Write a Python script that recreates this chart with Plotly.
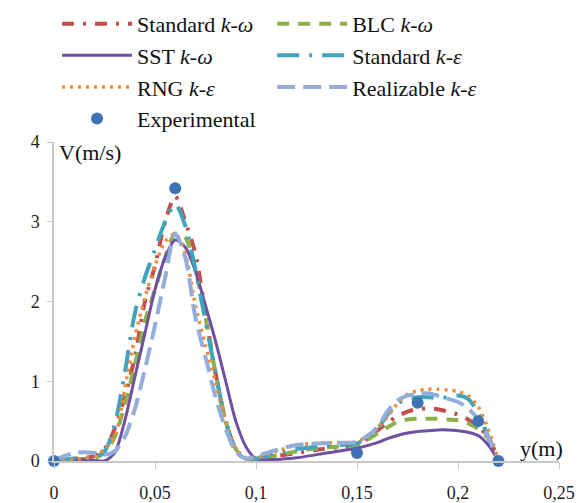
import plotly.graph_objects as go

# ---------------- data ----------------
y_pos = [0, 0.01, 0.02, 0.025, 0.03, 0.035, 0.04, 0.045, 0.05, 0.055, 0.06, 0.065,
         0.07, 0.075, 0.08, 0.085, 0.09, 0.095, 0.1, 0.11, 0.12, 0.13, 0.14, 0.15,
         0.16, 0.165, 0.17, 0.175, 0.18, 0.185, 0.19, 0.195, 0.2, 0.205, 0.21, 0.215, 0.22]

v_std_kw = [0, 0.03, 0.06, 0.15, 0.4, 0.8, 1.3, 2.0, 2.45, 3.0, 3.32, 3.0,
            2.6, 1.85, 1.1, 0.5, 0.15, 0.03, 0.02, 0.06, 0.1, 0.14, 0.17, 0.2,
            0.38, 0.48, 0.56, 0.62, 0.65, 0.66, 0.65, 0.62, 0.58, 0.52, 0.43, 0.3, 0.0]

v_blc_kw = [0, 0.02, 0.04, 0.1, 0.3, 0.7, 1.2, 1.75, 2.15, 2.55, 2.85, 2.8,
            2.4, 1.8, 1.1, 0.5, 0.15, 0.03, 0.02, 0.07, 0.12, 0.16, 0.18, 0.2,
            0.34, 0.42, 0.49, 0.52, 0.53, 0.53, 0.53, 0.52, 0.51, 0.47, 0.4, 0.28, 0.0]

v_sst_kw = [0, 0.02, 0.01, 0.0, 0.1, 0.5, 1.05, 1.6, 2.15, 2.55, 2.77, 2.68,
            2.38, 1.95, 1.5, 1.0, 0.5, 0.18, 0.03, 0.02, 0.04, 0.08, 0.12, 0.16,
            0.23, 0.28, 0.32, 0.35, 0.37, 0.38, 0.39, 0.39, 0.38, 0.36, 0.32, 0.2, 0.0]

v_std_ke = [0, 0.03, 0.05, 0.12, 0.45, 1.1, 1.85, 2.3, 2.65, 3.0, 3.22, 2.95,
            2.4, 1.75, 1.1, 0.5, 0.12, 0.03, 0.03, 0.1, 0.15, 0.18, 0.2, 0.22,
            0.4, 0.58, 0.72, 0.78, 0.8, 0.8, 0.79, 0.8, 0.82, 0.78, 0.6, 0.3, 0.0]

v_rng_ke = [0, 0.02, 0.06, 0.15, 0.3, 0.9, 1.55, 2.05, 2.45, 2.75, 2.85, 2.6,
            1.95, 1.45, 0.98, 0.5, 0.15, 0.04, 0.04, 0.12, 0.2, 0.22, 0.23, 0.24,
            0.42, 0.55, 0.72, 0.84, 0.88, 0.9, 0.9, 0.89, 0.87, 0.82, 0.68, 0.4, 0.0]

y_pos_real = [0, 0.005, 0.01, 0.015, 0.02, 0.025, 0.03, 0.035, 0.04, 0.045, 0.05, 0.055,
              0.06, 0.065, 0.07, 0.075, 0.08, 0.085, 0.09, 0.095, 0.1, 0.11, 0.12, 0.13,
              0.14, 0.15, 0.16, 0.165, 0.17, 0.175, 0.18, 0.185, 0.19, 0.195, 0.2, 0.205,
              0.21, 0.215, 0.22]
v_real_ke = [0, 0.06, 0.1, 0.11, 0.1, 0.08, 0.12, 0.3, 0.65, 1.15, 1.7, 2.3,
             2.85, 2.55, 1.8, 1.3, 0.8, 0.4, 0.12, 0.03, 0.06, 0.14, 0.2, 0.22,
             0.23, 0.24, 0.42, 0.62, 0.76, 0.82, 0.84, 0.85, 0.82, 0.78, 0.74, 0.66,
             0.52, 0.3, 0.0]

y_exp = [0, 0.06, 0.15, 0.18, 0.21, 0.22]
v_exp = [0, 3.42, 0.1, 0.73, 0.5, 0.0]

x_ticks = [0, 0.05, 0.1, 0.15, 0.2, 0.25]
y_ticks = [0, 1, 2, 3, 4]

# ---------------- figure ----------------
SERIF = "'Times New Roman', 'Liberation Serif', 'DejaVu Serif', serif"
fig = go.Figure()

def add_line(x, y, name, color, dash, width, legend):
    fig.add_trace(go.Scatter(
        x=x, y=y, mode="lines", name=name, legend=legend, legendgroup=name,
        line=dict(color=color, dash=dash, width=width, shape="spline", smoothing=0.8),
        cliponaxis=False,
    ))

add_line(y_pos, v_std_kw, "Standard <i>k-ω</i>", "#C0504D", "12px,9px,3px,9px", 4, "legend")
add_line(y_pos, v_blc_kw, "BLC <i>k-ω</i>", "#8DB04A", "12px,9px", 4, "legend2")
add_line(y_pos, v_sst_kw, "SST <i>k-ω</i>", "#7050A0", "solid", 3, "legend")
add_line(y_pos, v_std_ke, "Standard <i>k-ε</i>", "#3FA5BF", "22px,10px,3px,10px", 4, "legend2")
add_line(y_pos, v_rng_ke, "RNG <i>k-ε</i>", "#F08A3C", "3px,5px", 3.5, "legend")
add_line(y_pos_real, v_real_ke, "Realizable <i>k-ε</i>", "#93AEDB", "18px,8px", 4, "legend2")

fig.add_trace(go.Scatter(
    x=y_exp, y=v_exp, mode="markers", name="Experimental", legend="legend",
    legendgroup="Experimental",
    marker=dict(color="#3F72B5", size=12), cliponaxis=False,
))

fig.update_layout(
    width=581, height=503,
    margin=dict(l=54, r=22, t=142, b=42, autoexpand=False),
    plot_bgcolor="white", paper_bgcolor="white",
    separators=", ",
    font=dict(family=SERIF, color="#222222"),
    showlegend=True,
    legend=dict(
        x=0.006, y=1.436, xanchor="left", yanchor="top",
        font=dict(family=SERIF, size=22, color="#111111"),
        itemwidth=70, traceorder="grouped", tracegroupgap=0,
        bgcolor="rgba(0,0,0,0)",
    ),
    legend2=dict(
        x=0.432, y=1.436, xanchor="left", yanchor="top",
        font=dict(family=SERIF, size=22, color="#111111"),
        itemwidth=70, traceorder="grouped", tracegroupgap=0,
        bgcolor="rgba(0,0,0,0)",
    ),
    xaxis=dict(
        range=[0, 0.25], tickvals=x_ticks, showgrid=False, zeroline=False,
        showline=True, linecolor="#C8C8C8", linewidth=1.5,
        ticks="outside", ticklen=6, tickcolor="#C8C8C8",
        tickfont=dict(family=SERIF, size=18, color="#222222"),
        ticklabelstandoff=9, automargin=False,
    ),
    yaxis=dict(
        range=[0, 4], tickvals=y_ticks, showgrid=False, zeroline=False,
        showline=True, linecolor="#C8C8C8", linewidth=1.5,
        ticks="outside", ticklen=5, tickcolor="#C8C8C8",
        tickfont=dict(family=SERIF, size=18, color="#222222"),
        ticklabelstandoff=4, automargin=False,
    ),
    annotations=[
        dict(text="V(m/s)", xref="paper", yref="paper", x=0.006, y=0.966,
             xanchor="left", yanchor="middle", showarrow=False,
             font=dict(family=SERIF, size=22, color="#111111")),
        dict(text="y(m)", xref="paper", yref="paper", x=0.919, y=0.038,
             xanchor="left", yanchor="middle", showarrow=False,
             font=dict(family=SERIF, size=22, color="#111111")),
    ],
)

fig.write_html("out.html")
